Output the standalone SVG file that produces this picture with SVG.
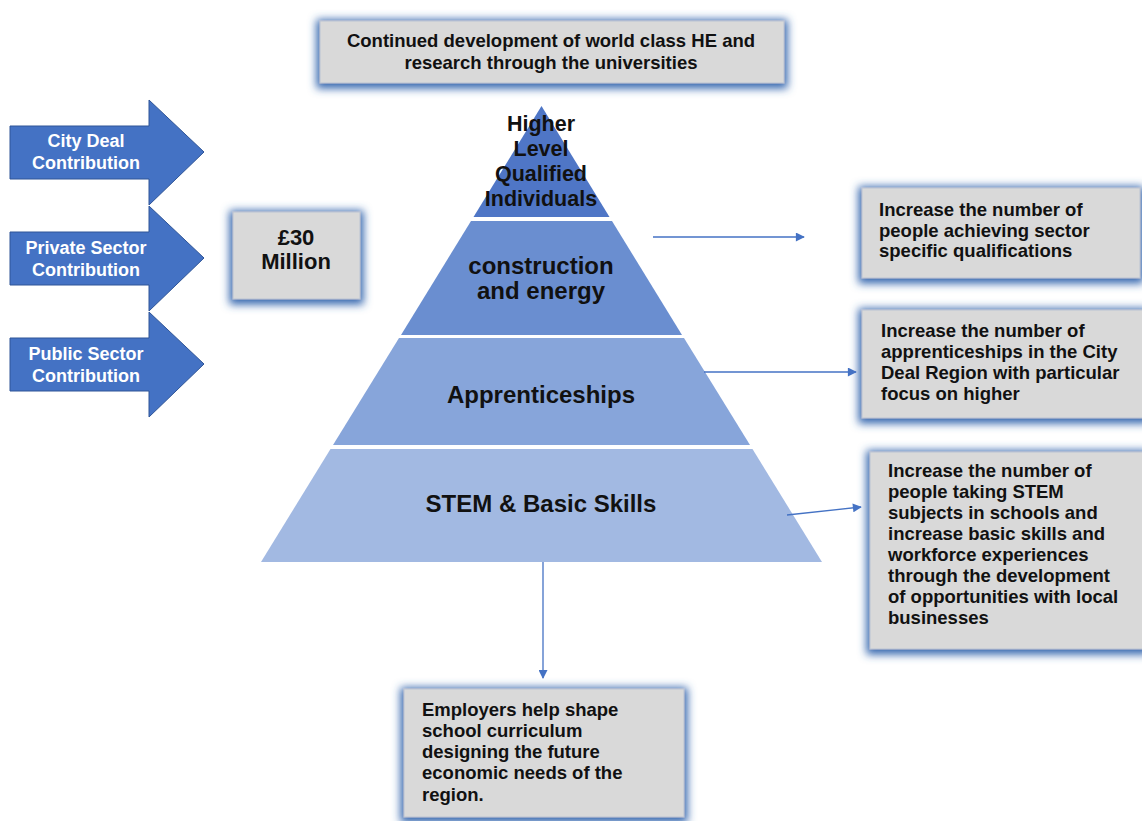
<svg xmlns="http://www.w3.org/2000/svg" width="1142" height="821" viewBox="0 0 1142 821">
<style>
  .box { fill:#d9d9d9; stroke:#b9c3d3; stroke-width:1; filter:url(#glow); }
  .bt { font-family:"Liberation Sans", Arial, sans-serif; font-weight:bold; font-size:18.5px; fill:#111; }
  .pt { font-family:"Liberation Sans", Arial, sans-serif; font-weight:bold; font-size:24px; fill:#111; text-anchor:middle; }
  .at { font-family:"Liberation Sans", Arial, sans-serif; font-weight:bold; font-size:18px; fill:#fff; text-anchor:middle; }
  .arr { fill:#4472c4; stroke:#2f5597; stroke-width:1; }
  .conn { stroke:#4472c4; stroke-width:1.3; fill:none; marker-end:url(#ah); }
</style>
<defs>
  <filter id="glow" x="-20%" y="-30%" width="140%" height="160%">
    <feMorphology in="SourceAlpha" operator="dilate" radius="3" result="d"/>
    <feGaussianBlur in="d" stdDeviation="4.5" result="b"/>
    <feOffset in="b" dy="2" result="o"/>
    <feFlood flood-color="#3466ae" flood-opacity="1"/>
    <feComposite in2="o" operator="in" result="g"/>
    <feMerge><feMergeNode in="g"/><feMergeNode in="SourceGraphic"/></feMerge>
  </filter>
  <marker id="ah" viewBox="0 0 10 10" refX="9" refY="5" markerWidth="10" markerHeight="9" markerUnits="userSpaceOnUse" orient="auto">
    <path d="M0,0 L10,5 L0,10 z" fill="#4472c4"/>
  </marker>
</defs>
<rect width="1142" height="821" fill="#ffffff"/>

<g id="pyramid">
  <g id="layer-top">
    <polygon points="541.5,106 609.5,217 473.5,217" fill="#4f76c6"/>
    <text class="pt" style="font-size:21.5px"><tspan x="541" y="131">Higher</tspan><tspan x="541" y="156">Level</tspan><tspan x="541" y="181">Qualified</tspan><tspan x="541" y="206">Individuals</tspan></text>
  </g>
  <g id="layer-construction">
    <polygon points="471,221 612,221 682,335 401,335" fill="#6a8ed0"/>
    <text class="pt"><tspan x="541" y="274">construction</tspan><tspan x="541" y="299">and energy</tspan></text>
  </g>
  <g id="layer-apprenticeships">
    <polygon points="399,338 684,338 750,445 333,445" fill="#87a5da"/>
    <text class="pt" x="541" y="403">Apprenticeships</text>
  </g>
  <g id="layer-stem">
    <polygon points="330.5,449 752.5,449 822,562 261,562" fill="#a2b9e2"/>
    <text class="pt" x="541" y="512">STEM &amp; Basic Skills</text>
  </g>
</g>

<g id="arrow-city-deal">
  <polygon class="arr" points="10,126 149,126 149,100 204,152 149,205 149,179 10,179"/>
  <text class="at"><tspan x="86" y="147">City Deal</tspan><tspan x="86" y="169">Contribution</tspan></text>
</g>
<g id="arrow-private">
  <polygon class="arr" points="10,232 149,232 149,206 204,258 149,311 149,285 10,285"/>
  <text class="at"><tspan x="86" y="254">Private Sector</tspan><tspan x="86" y="276">Contribution</tspan></text>
</g>
<g id="arrow-public">
  <polygon class="arr" points="10,338 149,338 149,312 204,364 149,417 149,391 10,391"/>
  <text class="at"><tspan x="86" y="360">Public Sector</tspan><tspan x="86" y="382">Contribution</tspan></text>
</g>

<g id="box-30m">
  <rect class="box" x="233" y="212" width="127" height="87"/>
  <text class="pt" style="font-size:22px"><tspan x="296" y="245">£30</tspan><tspan x="296" y="269">Million</tspan></text>
</g>

<g id="box-he">
  <rect class="box" x="320" y="21" width="464" height="62"/>
  <text class="bt" text-anchor="middle"><tspan x="551" y="47">Continued development of world class HE and</tspan><tspan x="551" y="69">research through the universities</tspan></text>
</g>

<g id="box-sector">
  <rect class="box" x="862" y="188" width="278" height="90"/>
  <text class="bt"><tspan x="879" y="216">Increase the number of</tspan><tspan x="879" y="237">people achieving sector</tspan><tspan x="879" y="257">specific qualifications</tspan></text>
</g>

<g id="box-apprenticeships">
  <rect class="box" x="862" y="310" width="284" height="108"/>
  <text class="bt"><tspan x="881" y="337">Increase the number of</tspan><tspan x="881" y="358">apprenticeships in the City</tspan><tspan x="881" y="379">Deal Region with particular</tspan><tspan x="881" y="400">focus on higher</tspan></text>
</g>

<g id="box-stem">
  <rect class="box" x="870" y="452" width="276" height="197"/>
  <text class="bt"><tspan x="888" y="477">Increase the number of</tspan><tspan x="888" y="498">people taking STEM</tspan><tspan x="888" y="519">subjects in schools and</tspan><tspan x="888" y="540">increase basic skills and</tspan><tspan x="888" y="561">workforce experiences</tspan><tspan x="888" y="582">through the development</tspan><tspan x="888" y="603">of opportunities with local</tspan><tspan x="888" y="624">businesses</tspan></text>
</g>

<g id="box-employers">
  <rect class="box" x="404" y="689" width="280" height="128"/>
  <text class="bt"><tspan x="422" y="716">Employers help shape</tspan><tspan x="422" y="737">school curriculum</tspan><tspan x="422" y="758">designing the future</tspan><tspan x="422" y="779">economic needs of the</tspan><tspan x="422" y="801">region.</tspan></text>
</g>

<g id="connectors">
  <line class="conn" x1="653" y1="237" x2="804" y2="237"/>
  <line class="conn" x1="704" y1="372" x2="856" y2="372"/>
  <line class="conn" x1="787" y1="515" x2="861" y2="507"/>
  <line class="conn" x1="543" y1="562" x2="543" y2="678"/>
</g>
</svg>
